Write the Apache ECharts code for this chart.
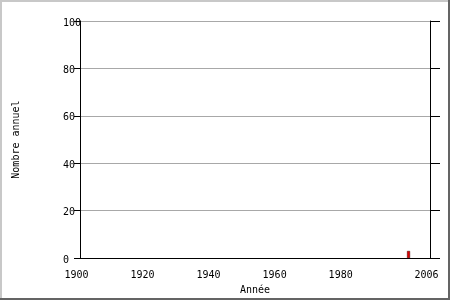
<!DOCTYPE html>
<html>
<head>
<meta charset="utf-8">
<script src="https://cdn.jsdelivr.net/npm/echarts@6/dist/echarts.min.js"></script>
<style>
  html, body { margin: 0; padding: 0; background: #fff; }
  #wrap { position: relative; width: 450px; height: 300px; overflow: hidden; }
  #chart { position: absolute; left: 0; top: 0; width: 450px; height: 300px; }
  .b { position: absolute; }
</style>
</head>
<body>
<div id="wrap">
  <div id="chart"></div>
  <div class="b" style="left:0;top:0;width:450px;height:2px;background:#c8c8c8"></div>
  <div class="b" style="left:0;top:0;width:2px;height:300px;background:#c8c8c8"></div>
  <div class="b" style="left:448px;top:0;width:2px;height:300px;background:#646464"></div>
  <div class="b" style="left:0;top:298px;width:450px;height:2px;background:#646464"></div>
</div>
<script>
const years = [1999];
const counts = [3];
const xTickLabels = [1900, 1920, 1940, 1960, 1980, 2006];
const yTicks = [0, 20, 40, 60, 80, 100];

const FONT = '"DejaVu Sans Mono", monospace';
const chart = echarts.init(document.getElementById('chart'), null, { renderer: 'canvas' });
chart.setOption({
  animation: false,
  backgroundColor: '#fff',
  grid: { left: 80, right: 20, top: 21, bottom: 40, containLabel: false },
  xAxis: {
    type: 'value',
    min: xTickLabels[0],
    max: xTickLabels[xTickLabels.length - 1],
    name: 'Année',
    nameLocation: 'middle',
    nameGap: 20,
    nameTextStyle: { fontFamily: FONT, fontSize: 10, color: '#000' },
    axisLine: { show: true, lineStyle: { color: '#000', width: 1 } },
    axisTick: { show: false },
    splitLine: { show: false },
    axisLabel: {
      customValues: xTickLabels,
      fontFamily: FONT, fontSize: 10, color: '#000',
      margin: 12,
      padding: [0, 7, 0, 0],
      formatter: v => String(v)
    }
  },
  yAxis: [
    {
      type: 'value',
      min: yTicks[0],
      max: yTicks[yTicks.length - 1],
      interval: 20,
      position: 'left',
      name: 'Nombre annuel',
      nameLocation: 'middle',
      nameGap: 59,
      nameTextStyle: { fontFamily: FONT, fontSize: 10, color: '#000' },
      axisLine: { show: true, lineStyle: { color: '#000', width: 1 } },
      axisTick: { show: true, length: 6, lineStyle: { color: '#000' } },
      splitLine: { show: true, lineStyle: { color: '#a8a8a8', width: 1 } },
      axisLabel: {
        fontFamily: FONT, fontSize: 10, color: '#000',
        align: 'left', margin: 17,
        verticalAlign: 'top', lineHeight: 4
      }
    },
    {
      type: 'value',
      min: yTicks[0],
      max: yTicks[yTicks.length - 1],
      interval: 20,
      position: 'right',
      axisLine: { show: true, onZero: false, lineStyle: { color: '#000', width: 1 } },
      axisTick: { show: true, length: 10, lineStyle: { color: '#000' } },
      splitLine: { show: false },
      axisLabel: { show: false }
    }
  ],
  series: [{
    type: 'bar',
    yAxisIndex: 0,
    barWidth: 3,
    // each year's bar is drawn in the middle of its one-year slot
    data: years.map((y, i) => [y + 0.5, counts[i]]),
    itemStyle: { color: '#e00000', borderColor: '#400000', borderWidth: 0.5 }
  }]
});
</script>
</body>
</html>
